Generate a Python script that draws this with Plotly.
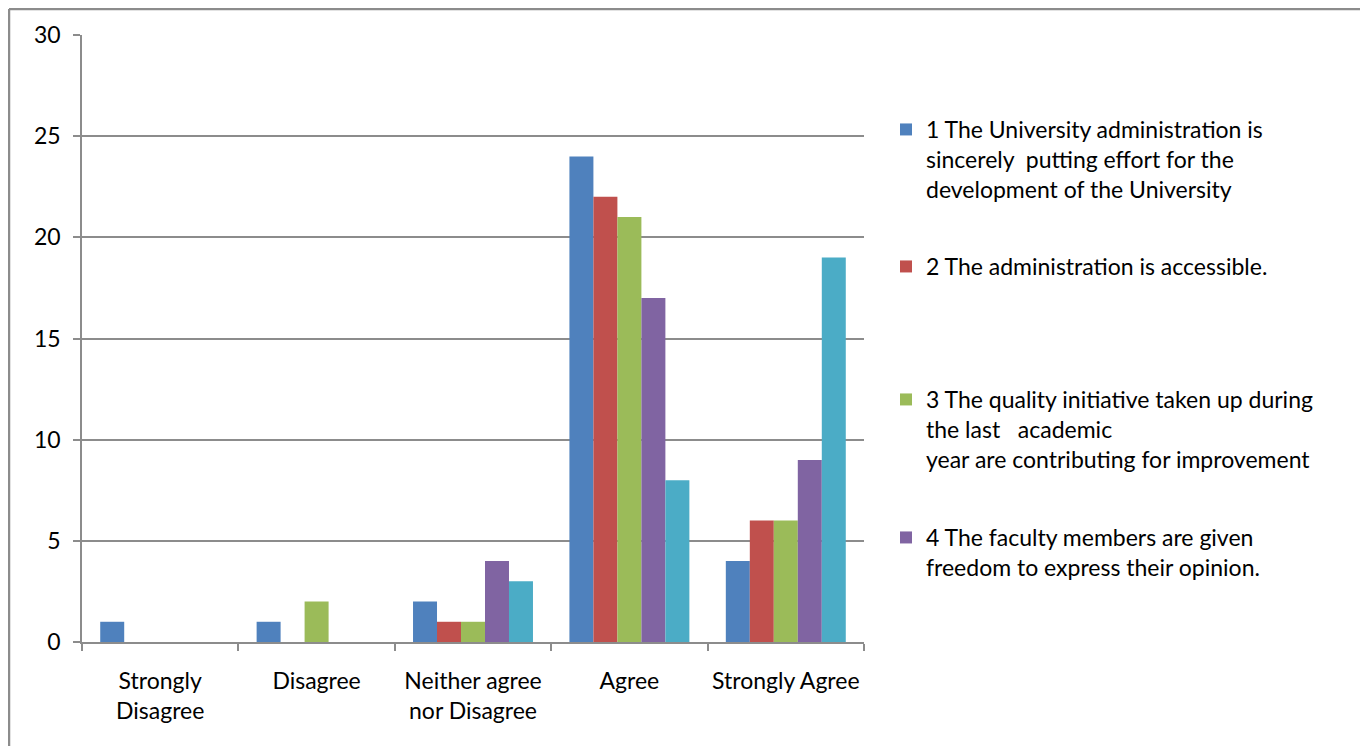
import plotly.graph_objects as go

categories = ["Strongly<br>Disagree", "Disagree", "Neither agree<br>nor Disagree", "Agree", "Strongly Agree"]
series_names = [
    "1 The University administration is<br>sincerely  putting effort for the<br>development of the University",
    "2 The administration is accessible.",
    "3 The quality initiative taken up during<br>the last   academic<br>year are contributing for improvement",
    "4 The faculty members are given<br>freedom to express their opinion.",
    "5",
]
s1 = [1, 1, 2, 24, 4]
s2 = [0, 0, 1, 22, 6]
s3 = [0, 2, 1, 21, 6]
s4 = [0, 0, 4, 17, 9]
s5 = [0, 0, 3, 8, 19]
values = [s1, s2, s3, s4, s5]
colors = ["#4F81BD", "#C0504D", "#9BBB59", "#8064A2", "#4BACC6"]
legend_ids = ["legend", "legend2", "legend3", "legend4", None]

FONT = "Lato"
FS = 23
OFF = 8  # page body margin
PAGE_W, PAGE_H = 1368, 746
W, H = PAGE_W - OFF, PAGE_H - OFF
# desired page positions of plot area
PL, PR, PT, PB = 82, 864, 35, 642
L, T = PL - OFF, PT - OFF
R, B = W - (PR - OFF), H - (PB - OFF)
PW, PH = W - L - R, H - T - B

def px(x):
    return (x - OFF - L) / PW

def py(y):
    return (H - B - (y - OFF)) / PH

fig = go.Figure()
for name, vals, col, lid in zip(series_names, values, colors, legend_ids):
    fig.add_trace(go.Bar(
        x=categories, y=vals, name=name, marker=dict(color=col, line=dict(width=0)),
        showlegend=lid is not None, legend=lid if lid else "legend",
    ))

legend_first_line = [130, 267, 400, 538]
layout_legends = {}
for lid, yc in zip(legend_ids[:4], legend_first_line):
    layout_legends[lid] = dict(
        x=px(886), y=py(yc - 22), xanchor="left", yanchor="top", valign="top",
        bgcolor="rgba(0,0,0,0)", font=dict(family=FONT, size=FS, color="#000000"),
        itemclick=False, itemdoubleclick=False,
    )

gray = "#8c8c8c"
shapes = [
    dict(type="line", xref="paper", yref="paper", x0=px(9), x1=px(1366), y0=py(9), y1=py(9), line=dict(color=gray, width=2.5)),
    dict(type="line", xref="paper", yref="paper", x0=px(9), x1=px(9), y0=py(9), y1=py(760), line=dict(color=gray, width=2.5)),
    dict(type="line", xref="paper", yref="paper", x0=px(1365), x1=px(1365), y0=py(9), y1=py(722), line=dict(color=gray, width=2.5)),
]

fig.update_layout(
    width=W, height=H,
    margin=dict(l=L, r=R, t=T, b=B, autoexpand=False),
    paper_bgcolor="white", plot_bgcolor="white",
    barmode="group", bargap=0.233, bargroupgap=0,
    font=dict(family=FONT, size=FS, color="#000000"),
    shapes=shapes,
    **layout_legends,
)
fig.update_xaxes(
    showline=True, linecolor=gray, linewidth=1.5,
    ticks="outside", tickson="boundaries", ticklen=7, tickcolor=gray, tickwidth=1.5,
    showgrid=False, ticklabelstandoff=18, tickangle=0, automargin=False,
    tickfont=dict(family=FONT, size=FS, color="#000000"),
)
fig.update_yaxes(
    range=[0, 30], dtick=5, tick0=0,
    showline=True, linecolor=gray, linewidth=1.5,
    ticks="outside", ticklen=7, tickcolor=gray, tickwidth=1.5,
    showgrid=True, gridcolor=gray, gridwidth=1.5, zeroline=False,
    ticklabelstandoff=8, automargin=False,
    tickfont=dict(family=FONT, size=FS, color="#000000"),
)
fig.write_html("out.html")
